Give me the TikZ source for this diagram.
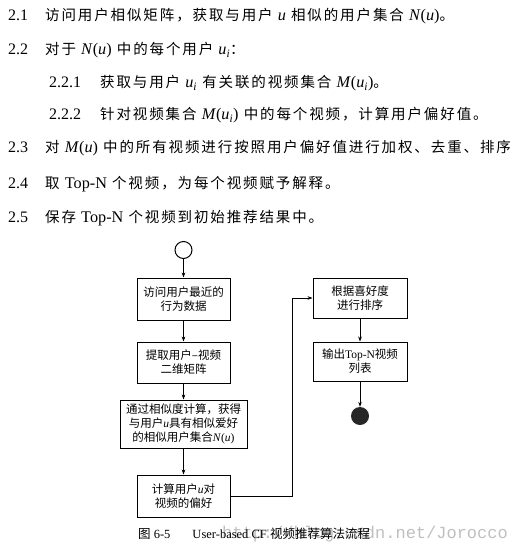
\documentclass[tikz,border=0pt]{standalone}
\usepackage{fontspec}
\setmainfont{Liberation Serif}
\newfontfamily\cjk{Noto Sans CJK SC}
\newfontfamily\cjkwide[LetterSpace=13]{Noto Sans CJK SC}
\newfontfamily\latbig[Scale=1.12]{Liberation Serif}
\newfontfamily\wmark{Liberation Mono}
\usetikzlibrary{arrows.meta}
\newcommand{\lat}[1]{{\rmfamily #1}}
\newcommand{\tl}[1]{{\latbig #1}}
\newcommand{\setf}[2]{\textit{#1}(\textit{#2})}

\begin{document}
\begin{tikzpicture}
         [x=1bp,y=-1bp,
          stepnum/.style={anchor=base west,inner sep=0pt,font=\rmfamily\fontsize{16bp}{18bp}\selectfont},
          steptext/.style={anchor=base west,inner sep=0pt,font=\cjkwide\fontsize{14.5bp}{17bp}\selectfont},
          box/.style={draw,line width=1bp,minimum width=93bp,minimum height=42bp,inner sep=2bp,
                      align=center,font=\cjk\fontsize{11.5bp}{14bp}\selectfont},
          startc/.style={circle,draw,line width=1bp,minimum size=17bp,inner sep=0pt},
          endc/.style={circle,fill=black!85,minimum size=18bp,inner sep=0pt},
          arr/.style={line width=.6bp,-{Stealth[length=5bp,width=3.6bp]}}]
         \useasboundingbox (0,0) rectangle (519,553);

         % algorithm steps
         \foreach \num/\x/\y [count=\i] in {2.1/8/20.5,2.2/8/54.5,2.2.1/49/87.5,2.2.2/49/119.5,2.3/8/152.5,2.4/8/188.5,2.5/8/222.5}
             \node[stepnum] (nNum\i) at (\x,\y) {\num};
         \node[steptext] (nStepA) at (45,20.5) {访问用户相似矩阵，获取与用户 \tl{\textit{u}} 相似的用户集合 \tl{\setf{N}{u}}。};
         \node[steptext] (nStepB) at (45,54.5) {对于 \tl{\setf{N}{u}} 中的每个用户 \tl{\textit{u}\textsubscript{\textit{i}}}：};
         \node[steptext] (nStepBA) at (100,87.5) {获取与用户 \tl{\textit{u}\textsubscript{\textit{i}}} 有关联的视频集合 \tl{\setf{M}{u\textsubscript{i}}}。};
         \node[steptext] (nStepBB) at (100,119.5) {针对视频集合 \tl{\setf{M}{u\textsubscript{i}}} 中的每个视频，计算用户偏好值。};
         \node[steptext] (nStepC) at (45,152.5) {对 \tl{\setf{M}{u}} 中的所有视频进行按照用户偏好值进行加权、去重、排序};
         \node[steptext] (nStepD) at (45,188.5) {取 \tl{Top-N} 个视频，为每个视频赋予解释。};
         \node[steptext] (nStepE) at (45,222.5) {保存 \tl{Top-N} 个视频到初始推荐结果中。};

         % flow chart
         \node[startc] (nStart) at (183.5,250) {};
         \node[box] (nVisit) at (183.5,299) {访问用户最近的\\行为数据};
         \node[box,minimum height=41bp] (nMatrix) at (183.5,362.5) {提取用户–视频\\二维矩阵};
         \node[box,minimum width=127bp,minimum height=48bp] (nSimilar) at (183.5,424) {通过相似度计算，获得\\与用户\lat{\textit{u}}具有相似爱好\\的相似用户集合\lat{\setf{N}{u}}};
         \node[box] (nPref) at (183.5,496) {计算用户\lat{\textit{u}}对\\视频的偏好};
         \node[box,minimum width=94bp,minimum height=40bp] (nSort) at (360,298) {根据喜好度\\进行排序};
         \node[box,minimum width=94bp,minimum height=39bp] (nOutput) at (360,361.5) {输出\lat{Top-N}视频\\列表};
         \node[endc] (nEnd) at (360,416) {};
         \coordinate (cLow) at (292,496);
         \coordinate (cHigh) at (292,298);

         \foreach \from/\to in {nStart/nVisit,nVisit/nMatrix,nMatrix/nSimilar,nSimilar/nPref,nSort/nOutput,nOutput/nEnd}
             \draw[arr] (\from) -- (\to);
         \draw[arr] (nPref) -- (cLow) -- (cHigh) -- (nSort);

         % caption
         \node[anchor=east,inner sep=0pt,text=black!25,font=\wmark\fontsize{17bp}{19bp}\selectfont] (nMark) at (508,534) {http://blog.csdn.net/Jorocco};
         \node[anchor=west,inner sep=0pt,font=\rmfamily\fontsize{12.5bp}{14bp}\selectfont] (nCaption) at (138,534) {{\cjk 图}~6-5\hspace{22bp}User-based CF {\cjk 视频推荐算法流程}};

     \end{tikzpicture}
\end{document}
